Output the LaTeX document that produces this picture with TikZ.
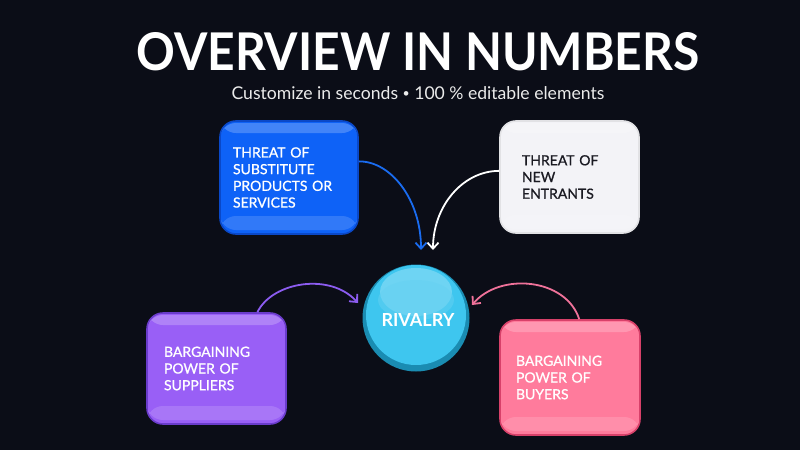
\documentclass[tikz,border=0pt]{standalone}
\usepackage{fontspec}
\setmainfont{Lato}
\newfontfamily\cardfont{Lato}[FakeBold=0.9]
\usetikzlibrary{arrows.meta,shapes.geometric}
\definecolor{bgc}{HTML}{0B0D17}
\definecolor{bluef}{HTML}{0E62F7}
\definecolor{bluee}{HTML}{0A48C8}
\definecolor{whitef}{HTML}{F3F3F7}
\definecolor{purf}{HTML}{995FF6}
\definecolor{pure}{HTML}{6A3CCB}
\definecolor{pinkf}{HTML}{FF7B9C}
\definecolor{pinke}{HTML}{D8416A}
\definecolor{cyanf}{HTML}{3EC6EF}
\definecolor{cyane}{HTML}{1A8CB2}
\definecolor{darktext}{HTML}{1A1A22}
\definecolor{arrblue}{HTML}{1A6CF0}
\definecolor{arrpur}{HTML}{8C5CF0}
\definecolor{arrpink}{HTML}{F0729A}
\tikzset{
  card/.style={rounded corners=16pt, line width=1.6pt, align=left,
    font=\cardfont\fontsize{14}{16.7}\selectfont, inner ysep=0pt,
    path picture={
      \fill[white,opacity=0.22] ([yshift=-2pt]path picture bounding box.north west) rectangle ([yshift=-12pt]path picture bounding box.north east);
      \fill[white,opacity=0.15] ([yshift=4pt]path picture bounding box.south west) rectangle ([yshift=18pt]path picture bounding box.south east);
    }},
  conn/.style={line width=1.8pt, -{Straight Barb[length=6pt,width=11pt,line width=1.8pt]}},
}
\begin{document}
\begin{tikzpicture}[x=1pt,y=-1pt]
\fill[bgc] (0,0) rectangle (800,450);
\useasboundingbox (0,0) rectangle (800,450);

% titles
\node[text=white, inner sep=0pt] (title) at (418,52) {\resizebox{563pt}{38pt}{\bfseries OVERVIEW IN NUMBERS}};
\node[text=white!92!black, inner sep=0pt, font=\fontsize{17.6}{19}\selectfont] (sub) at (418,93) {Customize in seconds \raisebox{1.5pt}{\scalebox{0.7}{\textbullet}} 100 \% editable elements};

% cards
\node[card, fill=bluef, draw=bluee, text=white, minimum width=138pt, minimum height=113pt, text width=112pt, inner xsep=13pt] (subst) at (289,177.5) {THREAT OF\\SUBSTITUTE\\PRODUCTS OR\\SERVICES};
\node[card, fill=whitef, draw=whitef!85!gray, text=darktext, minimum width=139pt, minimum height=112pt, text width=95pt, inner xsep=22pt] (newe) at (569.5,177) {THREAT OF\\NEW\\ENTRANTS};
\node[card, fill=purf, draw=pure, text=white, minimum width=139pt, minimum height=111pt, text width=105pt, inner xsep=17pt] (supp) at (216.5,368.5) {BARGAINING\\POWER OF\\SUPPLIERS};
\node[card, fill=pinkf, draw=pinke, text=white, minimum width=140pt, minimum height=115pt, text width=108pt, inner xsep=16pt] (buy) at (570,377.5) {BARGAINING\\POWER OF\\BUYERS};

% rivalry circle
\node[circle, fill=cyane, minimum size=107pt, inner sep=0pt] (riv) at (416,318) {};
\fill[cyanf] (416,315) circle (50pt);
\fill[white, opacity=0.25] (416,292) ellipse (36pt and 24pt);
\fill[cyanf!80!white, opacity=0.5] (416,300) ellipse (38pt and 20pt);
\node[text=white, font=\fontsize{18}{20}\selectfont\bfseries] (rivt) at (418,320) {RIVALRY};

% connector ends
\coordinate (tb) at (421,250);
\coordinate (tw) at (433,250);
\coordinate (tp) at (358,303);
\coordinate (tk) at (472,305);

\draw[conn, arrblue] (subst.13) .. controls (391,161) and (421,200) .. (tb);
\draw[conn, white] (newe.175) .. controls (462,171) and (433,207) .. (tw);
\draw[conn, arrpur] (supp.54) .. controls (272,282) and (330,272) .. (tp);
\draw[conn, arrpink] (buy.81) .. controls (566,278) and (500,272) .. (tk);
\end{tikzpicture}
\end{document}
